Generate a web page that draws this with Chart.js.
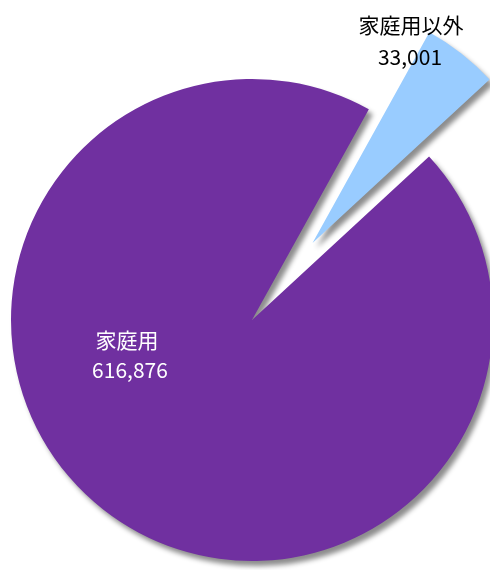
<!DOCTYPE html>
<html>
<head>
  <meta charset="utf-8">
  <script src="https://cdn.jsdelivr.net/npm/chart.js"></script>
  <style>
    body { margin: 0; padding: 0; background: #ffffff; }
    canvas { display: block; }
  </style>
</head>
<body>
  <canvas id="pieChart" width="490" height="570"></canvas>

  <script>
    const categories = ["家庭用以外", "家庭用"];
    const values = [33001, 616876];
    const sliceColors = ["#99CCFF", "#7030A0"];
    const explode = [98, 0];

    // Chart.js "offset" also grows the slice, so pull the slice out by moving its centre instead
    const explodePlugin = {
      id: "explodeSlices",
      afterDatasetsUpdate(chart) {
        const arcs = chart.getDatasetMeta(0).data;
        arcs.forEach((arc, i) => {
          if (!explode[i]) return;
          const mid = (arc.startAngle + arc.endAngle) / 2;
          arc.x += Math.cos(mid) * explode[i];
          arc.y += Math.sin(mid) * explode[i];
        });
      },
      beforeDatasetsDraw(chart) {
        const ctx = chart.ctx;
        ctx.save();
        ctx.shadowColor = "rgba(0,0,0,0.45)";
        ctx.shadowOffsetX = 4;
        ctx.shadowOffsetY = 5;
        ctx.shadowBlur = 5;
      },
      afterDatasetsDraw(chart) {
        chart.ctx.restore();
      }
    };

    const labelPlugin = {
      id: "sliceLabels",
      afterDatasetsDraw(chart) {
        const ctx = chart.ctx;
        ctx.save();
        ctx.font = '21px "Noto Sans CJK JP"';
        ctx.textAlign = "center";
        ctx.textBaseline = "middle";

        ctx.fillStyle = "#000000";
        ctx.fillText(categories[0], 411, 25);
        ctx.fillText(values[0].toLocaleString("en-US"), 410, 57);

        ctx.fillStyle = "#ffffff";
        ctx.fillText(categories[1], 127, 340);
        ctx.fillText(values[1].toLocaleString("en-US"), 130, 370);
        ctx.restore();
      }
    };

    const ctx = document.getElementById("pieChart").getContext("2d");
    new Chart(ctx, {
      type: "pie",
      data: {
        labels: categories,
        datasets: [{
          data: values,
          backgroundColor: sliceColors,
          borderWidth: 0,
          clip: false
        }]
      },
      options: {
        responsive: false,
        animation: false,
        events: [],
        rotation: 29,
        radius: 241,
        layout: { padding: { left: 14, right: 0, top: 70, bottom: 0 } },
        plugins: {
          legend: { display: false },
          tooltip: { enabled: false }
        }
      },
      plugins: [explodePlugin, labelPlugin]
    });
  </script>
</body>
</html>
